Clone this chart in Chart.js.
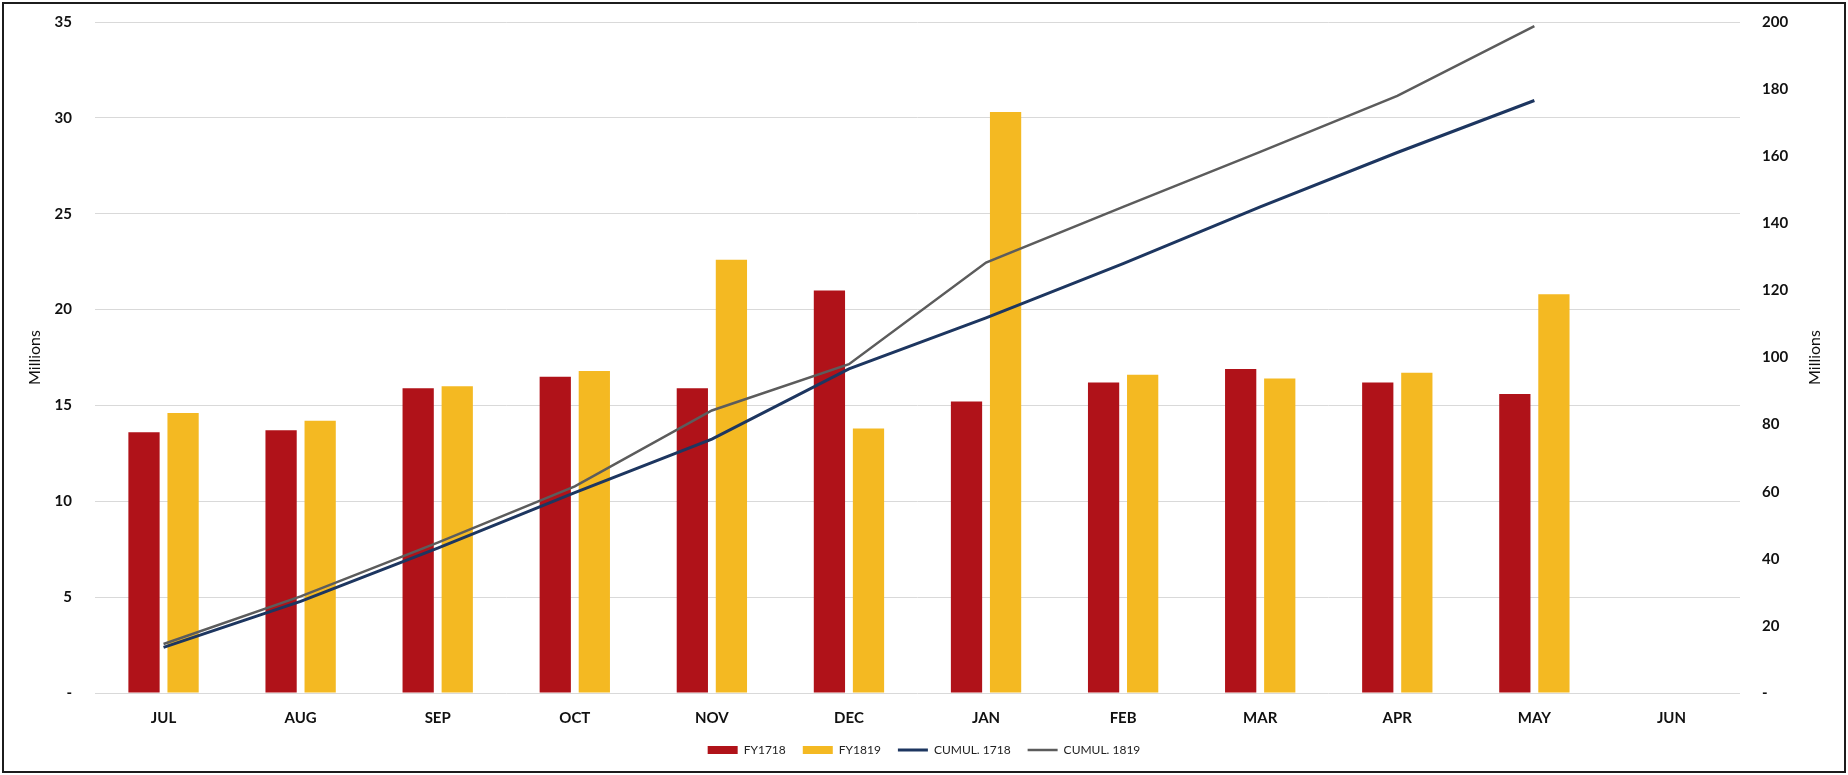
<!DOCTYPE html>
<html>
<head>
<meta charset="utf-8">
<script src="https://cdn.jsdelivr.net/npm/chart.js@4.4.1/dist/chart.umd.min.js"></script>
<style>
  html, body { margin: 0; padding: 0; background: #fff; }
  #wrap { position: absolute; left: 0; top: 0; width: 1848px; height: 775px; }
  #frame {
    position: absolute; left: 2px; top: 2px; width: 1844px; height: 771px;
    box-sizing: border-box; border: 2px solid #1c1c1c; pointer-events: none;
  }
</style>
</head>
<body>
<div id="wrap"><canvas id="chart"></canvas></div>
<div id="frame"></div>
<script>
const months = ['JUL', 'AUG', 'SEP', 'OCT', 'NOV', 'DEC', 'JAN', 'FEB', 'MAR', 'APR', 'MAY', 'JUN'];
const fy1718 = [13.6, 13.7, 15.9, 16.5, 15.9, 21.0, 15.2, 16.2, 16.9, 16.2, 15.6, null];
const fy1819 = [14.6, 14.2, 16.0, 16.8, 22.6, 13.8, 30.3, 16.6, 16.4, 16.7, 20.8, null];
const cumul1718 = [13.6, 27.3, 43.2, 59.7, 75.7, 96.6, 111.8, 128.0, 144.9, 161.1, 176.6, null];
const cumul1819 = [14.6, 28.8, 44.8, 61.6, 84.2, 98.0, 128.3, 144.9, 161.3, 178.0, 198.8, null];

const tickFont = { family: 'Lato', size: 15, weight: 'bold' };
const titleFont = { family: 'Lato', size: 16 };
const dash = v => v === 0 ? '-' : v;

// right axis title reads bottom-to-top like the left one
const rightTitle = {
  id: 'rightTitle',
  afterDraw(chart) {
    const c = chart.ctx;
    const a = chart.chartArea;
    c.save();
    c.translate(1815, (a.top + a.bottom) / 2);
    c.rotate(-Math.PI / 2);
    c.font = '16px Lato';
    c.fillStyle = '#111';
    c.textAlign = 'center';
    c.textBaseline = 'middle';
    c.fillText('Millions', 0, 0);
    c.restore();
  }
};

const ctx = document.getElementById('chart').getContext('2d');
new Chart(ctx, {
  type: 'bar',
  data: {
    labels: months,
    datasets: [
      {
        label: 'FY1718',
        data: fy1718,
        backgroundColor: '#b01219',
        yAxisID: 'y',
        order: 2,
        pointStyle: 'rect'
      },
      {
        label: 'FY1819',
        data: fy1819,
        backgroundColor: '#f4b922',
        yAxisID: 'y',
        order: 2,
        pointStyle: 'rect'
      },
      {
        type: 'line',
        label: 'CUMUL. 1718',
        data: cumul1718,
        borderColor: '#1d3660',
        backgroundColor: '#1d3660',
        borderWidth: 3,
        pointRadius: 0,
        tension: 0,
        yAxisID: 'y1',
        order: 0,
        pointStyle: 'line'
      },
      {
        type: 'line',
        label: 'CUMUL. 1819',
        data: cumul1819,
        borderColor: '#5c5c5c',
        backgroundColor: '#5c5c5c',
        borderWidth: 2.5,
        pointRadius: 0,
        tension: 0,
        yAxisID: 'y1',
        order: 1,
        pointStyle: 'line'
      }
    ]
  },
  options: {
    responsive: true,
    maintainAspectRatio: false,
    animation: false,
    categoryPercentage: 0.57,
    barPercentage: 0.8,
    layout: { padding: { top: 22, bottom: 9, left: 0, right: 0 } },
    plugins: {
      tooltip: { enabled: false },
      legend: {
        position: 'bottom',
        labels: {
          usePointStyle: true,
          pointStyleWidth: 30,
          boxWidth: 30,
          boxHeight: 8,
          padding: 17,
          color: '#222',
          font: { family: 'Lato', size: 12 },
          sort: (a, b) => a.datasetIndex - b.datasetIndex
        }
      }
    },
    scales: {
      x: {
        grid: { display: false, drawTicks: false },
        border: { display: false },
        ticks: { color: '#111', font: tickFont, padding: 16 },
        afterFit: s => { s.height = 34; }
      },
      y: {
        position: 'left',
        min: 0,
        max: 35,
        ticks: { stepSize: 5, color: '#111', font: tickFont, padding: 0, callback: dash },
        grid: { color: '#d9d9d9', tickLength: 23, tickColor: 'rgba(0,0,0,0)' },
        border: { display: false },
        title: { display: true, text: 'Millions', color: '#111', font: titleFont, padding: { top: 25, bottom: 0 } },
        afterFit: s => { s.width = 95; }
      },
      y1: {
        position: 'right',
        min: 0,
        max: 200,
        ticks: { stepSize: 20, color: '#111', font: tickFont, padding: 0, callback: dash },
        grid: { display: false, tickLength: 22 },
        border: { display: false },
        afterFit: s => { s.width = 108; }
      }
    }
  },
  plugins: [rightTitle]
});
</script>
</body>
</html>
